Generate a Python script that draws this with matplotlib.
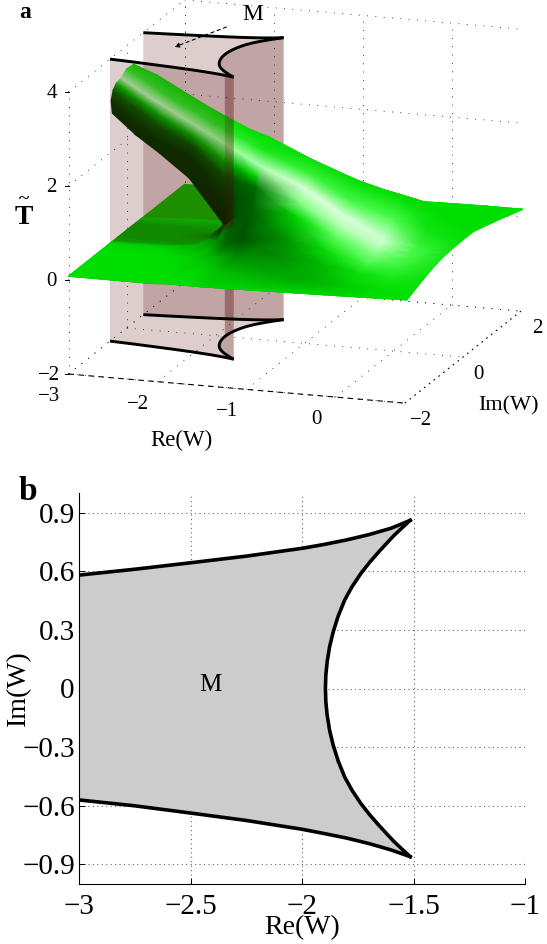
import numpy as np
import matplotlib
matplotlib.use("Agg")
import matplotlib.pyplot as plt
from matplotlib.colors import LinearSegmentedColormap
from matplotlib.patches import Polygon, Rectangle

plt.rcParams['font.family'] = ['Liberation Serif', 'DejaVu Sans']
W, H = 547, 944

# boundary of the region M
re_top = [-3.0, -2.75, -2.5, -2.25, -2.0, -1.9, -1.8, -1.7, -1.6, -1.515]
im_top = [0.58, 0.61, 0.643, 0.677, 0.717, 0.737, 0.76, 0.787, 0.82, 0.86]
re_bot = [-3.0, -2.75, -2.5, -2.25, -2.0, -1.9, -1.8, -1.7, -1.6, -1.515]
im_bot = [-0.57, -0.60, -0.637, -0.675, -0.72, -0.742, -0.765, -0.793, -0.826, -0.86]
re_arc = [-1.515, -1.553, -1.590, -1.655, -1.697, -1.735, -1.776, -1.808, -1.838, -1.860, -1.876, -1.887, -1.893, -1.895,
          -1.893, -1.887, -1.876, -1.860, -1.838, -1.808, -1.776, -1.735, -1.697, -1.655, -1.590, -1.553, -1.515]
im_arc = [0.86, 0.82, 0.78, 0.70, 0.645, 0.59, 0.52, 0.454, 0.37, 0.29, 0.215, 0.138, 0.07, 0.0,
          -0.07, -0.138, -0.215, -0.29, -0.37, -0.454, -0.52, -0.59, -0.645, -0.70, -0.78, -0.82, -0.86]
# height where the surface meets the front wall, along re_bot
cut_t = [.13, .15, .18, .22, .30, .39, .48, .61, .75, .85]

# surface height and shading, panel a
# columns lean with the highlight on the right hand rows
sheet_re = [-3, -2.4, -2.05, -1.9, -1.7, -1.5, -1, -0.5, 0, 0.4, 0.8]
im_base = [-2, -1.4, -0.9, -0.6, -0.3, -0.15, 0, 0.15, 0.3, 0.7, 1.2, 2]
sheet_im = [
    im_base, im_base, im_base, im_base, im_base, im_base, im_base,
    [-2, -1.55, -1.05, -.75, -.47, -.32, -.17, .05, .3, .7, 1.2, 2],
    [-2, -1.70, -1.23, -.93, -.63, -.48, -.33, -.05, .3, .7, 1.2, 2],
    [-2, -1.75, -1.35, -1.05, -.75, -.60, -.45, -.10, .3, .7, 1.2, 2],
    [-2, -1.75, -1.35, -1.05, -.75, -.60, -.45, -.10, .3, .7, 1.2, 2],
]
sheet_t = [
    [.08, .08, .08, .08, .08, .08, .08, .08, .08, .08, .08, .08],
    [.08, .08, .08, .08, .08, .08, .08, .08, .08, .08, .08, .08],
    [.08, .08, .08, .08, .08, .10, .13, .10, .08, .08, .08, .08],
    [.10, .10, .10, .12, .18, .28, .37, .28, .20, .12, .10, .10],
    [.10, .12, .15, .25, .70, 1.10, 1.92, 2.12, 2.28, 1.60, .30, .10],
    [.10, .13, .20, .42, .95, 1.32, 1.70, 1.95, 2.16, 1.60, .40, .10],
    [.12, .16, .30, .50, .85, 1.05, 1.30, 1.55, 1.75, 1.35, .45, .12],
    [.14, .17, .30, .42, .58, .72, .88, 1.08, 1.40, 1.10, .50, .14],
    [.16, .20, .27, .32, .42, .47, .55, .82, 1.13, .90, .50, .16],
    [.18, .22, .28, .35, .42, .47, .50, .68, .85, .70, .45, .17],
    [.20, .27, .38, .45, .50, .51, .52, .53, .53, .45, .35, .17],
]
sheet_shade = [
    [.60, .60, .60, .58, .48, .48, .48, .48, .48, .60, .60, .60],
    [.60, .60, .60, .58, .48, .48, .48, .48, .48, .60, .60, .60],
    [.60, .60, .58, .52, .48, .46, .40, .46, .48, .55, .60, .60],
    [.60, .58, .55, .52, .40, .15, .05, .20, .30, .50, .60, .60],
    [.60, .58, .50, .32, .24, .24, .90, .68, .60, .60, .60, .60],
    [.58, .52, .40, .24, .28, .34, .92, .66, .60, .60, .60, .60],
    [.58, .48, .40, .42, .58, .85, .98, .72, .62, .60, .60, .60],
    [.58, .48, .50, .62, .80, .92, .98, .76, .60, .60, .60, .60],
    [.58, .55, .62, .76, .88, .94, .96, .78, .60, .60, .60, .60],
    [.60, .60, .66, .72, .76, .76, .74, .64, .60, .60, .60, .60],
    [.60, .62, .64, .65, .65, .65, .64, .61, .60, .60, .60, .60],
]

# the folded upper sheet, one row per Re, lower edge to crest
tube_re = [-3, -2.75, -2.5, -2.2, -1.9, -1.7, -1.5]
tube_im = [
    [-.49, -.53, -.46, -.35, -.18, .00, .25],
    [-.45, -.50, -.43, -.32, -.20, .02, .28],
    [-.40, -.45, -.38, -.30, -.20, .00, .30],
    [-.30, -.30, -.27, -.22, -.15, .05, .30],
    [.00, -.02, -.03, -.04, -.05, .10, .30],
    [-.15, -.10, -.07, -.05, -.02, .15, .30],
    [-.30, -.22, -.15, -.08, .00, .15, .30],
]
tube_t = [
    [2.81, 3.10, 3.29, 3.38, 3.41, 3.51, 3.49],
    [2.37, 2.68, 2.93, 3.05, 3.14, 3.24, 3.29],
    [2.00, 2.30, 2.55, 2.72, 2.88, 2.97, 3.02],
    [1.47, 1.96, 2.18, 2.36, 2.54, 2.65, 2.72],
    [.37, 1.02, 1.45, 1.80, 2.15, 2.32, 2.45],
    [.70, 1.10, 1.35, 1.62, 1.92, 2.12, 2.28],
    [.95, 1.15, 1.32, 1.50, 1.70, 1.95, 2.16],
]
tube_shade = [
    [.10, .15, .32, .55, .93, .70, .62],
    [.10, .13, .30, .52, .93, .70, .62],
    [.10, .12, .28, .50, .93, .70, .62],
    [.10, .12, .25, .50, .92, .70, .62],
    [.05, .12, .25, .50, .90, .68, .60],
    [.24, .25, .28, .50, .90, .68, .60],
    [.28, .30, .34, .60, .92, .66, .60],
]

re_ticks_a = [-3, -2, -1, 0]
re_labels_a = ['\u22123', '\u22122', '\u22121', '0']
im_ticks_a = [-2, 0, 2]
im_labels_a = ['\u22122', '0', '2']
t_ticks_a = [-2, 0, 2, 4]
t_labels_a = ['\u22122', '0', '2', '4']

re_ticks_b = [-3, -2.5, -2, -1.5, -1]
re_labels_b = ['\u22123', '\u22122.5', '\u22122', '\u22121.5', '\u22121']
im_ticks_b = [-0.9, -0.6, -0.3, 0, 0.3, 0.6, 0.9]
im_labels_b = ['\u22120.9', '\u22120.6', '\u22120.3', '0', '0.3', '0.6', '0.9']

fig = plt.figure(figsize=(W / 100, H / 100), dpi=100)

# panel a: Matlab style orthographic view, done as an affine map onto pixels
ax1 = fig.add_axes([0, 0, 1, 1])
ax1.set_xlim(0, W)
ax1.set_ylim(H, 0)
ax1.axis('off')


def project(re, im, t):
    re, im, t = np.asarray(re, float), np.asarray(im, float), np.asarray(t, float)
    x = 68.5 + 89 * (re + 3) + 29 * (im + 2)
    y = 374 + 7.7 * (re + 3) - 23 * (im + 2) - 47 * (t + 2)
    return x, y


RE_MIN, RE_MAX, IM_MIN, IM_MAX, T_MIN, T_MAX = -3, 0.78, -2, 2, -2, 4
dot = dict(color='k', lw=0.6, ls=(0, (1, 9)), zorder=1)


def line3(re, im, t, **kw):
    ax1.plot(*project(re, im, t), **kw)


# grid on the floor and the two back walls
for r in re_ticks_a:
    line3([r, r], [IM_MIN, IM_MAX], [T_MIN, T_MIN], **dot)
    line3([r, r], [IM_MAX, IM_MAX], [T_MIN, T_MAX], **dot)
for i in im_ticks_a:
    line3([RE_MIN, RE_MAX], [i, i], [T_MIN, T_MIN], **dot)
    line3([RE_MIN, RE_MIN], [i, i], [T_MIN, T_MAX], **dot)
for t in t_ticks_a:
    line3([RE_MIN, RE_MIN], [IM_MIN, IM_MAX], [t, t], **dot)
    line3([RE_MIN, RE_MAX], [IM_MAX, IM_MAX], [t, t], **dot)
dash = dict(color='k', lw=0.8, ls=(0, (5, 4)), zorder=1)
line3([RE_MIN, RE_MAX], [IM_MIN, IM_MIN], [T_MIN, T_MIN], **dash)
line3([RE_MAX, RE_MAX], [IM_MIN, IM_MAX], [T_MIN, T_MIN], **dict(dash, ls=(0, (1.5, 4))))

# green surface colours
greens = LinearSegmentedColormap.from_list('greens', [
    (0.0, (0, 0.10, 0)),
    (0.3, (0, 0.38, 0)),
    (0.6, (0, 0.87, 0)),
    (0.8, (0.35, 1, 0.35)),
    (1.0, (0.92, 1, 0.92)),
])
sheet_t = np.array(sheet_t)
sheet_shade = np.array(sheet_shade)
sheet_rows = np.repeat(sheet_re, 12).reshape(11, 12)
sx, sy = project(sheet_rows, np.array(sheet_im), sheet_t)
tube_rows = np.repeat(tube_re, 7).reshape(7, 7)
tx, ty = project(tube_rows, np.array(tube_im), np.array(tube_t))


def sheet(z, clip=None):
    # far strips first, so the ridge hides what lies behind it
    m = ax1.pcolormesh(sx.T[::-1], sy.T[::-1], sheet_shade.T[::-1], cmap=greens, vmin=0, vmax=1,
                       shading='gouraud', zorder=z)
    if clip is not None:
        patch = Polygon(clip, closed=True, transform=ax1.transData, fc='none', ec='none')
        ax1.add_patch(patch)
        m.set_clip_path(patch)
    return m


def tube(z):
    return ax1.pcolormesh(tx, ty, np.array(tube_shade), cmap=greens, vmin=0, vmax=1,
                          shading='gouraud', zorder=z)


def wall(re, im, z):
    x0, y0 = project(re, im, np.full(len(re), T_MIN))
    x1, y1 = project(re, im, np.full(len(re), T_MAX))
    pts = np.r_[np.c_[x1, y1], np.c_[x0, y0][::-1]]
    ax1.add_patch(Polygon(pts, closed=True, fc=(85 / 255, 5 / 255, 5 / 255),
                          ec='none', alpha=0.2, zorder=z))


mid = len(re_arc) // 2
sheet(2)
wall(re_top, im_top, 3)
wall(re_arc[:mid + 1], im_arc[:mid + 1], 3)

# the sheet comes back in front of the back wall below its cut line
ux, uy = project(re_top, im_top, np.full(len(re_top), 0.08))
clip_u = np.r_[np.c_[ux[:5], uy[:5]], [[ux[4], 0], [W, 0], [W, H], [0, H], [0, uy[0]]]]
sheet(4, clip_u)

tube(5)

wall(re_arc[mid:], im_arc[mid:], 6)
wall(re_bot, im_bot, 6)

# and in front of the front wall
lx, ly = project(re_bot, im_bot, cut_t)
clip_l = np.r_[np.c_[lx, ly], [[lx[-1], 0], [W, 0], [W, H], [0, H], [0, ly[0]]]]
sheet(7, clip_l)

# right of the front wall the ridge is not veiled
ridge = tube(7.5)
right = Rectangle((lx[-1], 0), W, H, transform=ax1.transData, fc='none', ec='none')
ax1.add_patch(right)
ridge.set_clip_path(right)

for t in (T_MIN, T_MAX):
    for re, im in ((re_top, im_top), (re_bot, im_bot), (re_arc, im_arc)):
        line3(re, im, np.full(len(re), t), color='k', lw=2.1, zorder=8,
              solid_capstyle='butt')

# ticks and labels of panel a
for t, lab in zip(t_ticks_a, t_labels_a):
    x, y = project(RE_MIN, IM_MIN, t)
    ax1.plot([x - 4, x], [y, y], color='k', lw=0.7, zorder=9)
    ax1.text(x - (19 if t == -2 else 17), y + 1, lab, fontsize=15, ha='center', va='center')
for r, lab in zip(re_ticks_a, re_labels_a):
    x, y = project(r, IM_MIN, T_MIN)
    ax1.text(x - 19, y + 22.5, lab, fontsize=15, ha='center', va='center')
for i, lab in zip(im_ticks_a, im_labels_a):
    x, y = project(RE_MAX, i, T_MIN)
    ax1.text(x + 16, y + 17, lab, fontsize=15, ha='center', va='center')
ax1.text(181, 440, 'Re(W)', fontsize=16.5, ha='center', va='center')
ax1.text(508, 406, 'Im(W)', fontsize=16, ha='center', va='center')
ax1.text(24, 218, 'T', fontsize=20, fontweight='bold', ha='center', va='center')
ax1.text(24, 200, '~', fontsize=14, fontweight='bold', ha='center', va='center')
ax1.text(25, 12, 'a', fontsize=17, fontweight='bold', ha='center', va='center')
ax1.text(253, 15, 'M', fontsize=17, ha='center', va='center')
ax1.annotate('', xy=(172, 48), xytext=(229, 26), zorder=9,
             arrowprops=dict(arrowstyle='-|>', lw=0.8, ls=(0, (3, 3)), color='k', mutation_scale=7))

# panel b: plain 2D axes
ax2 = fig.add_axes([79 / W, 1 - 884 / H, (525 - 79) / W, (884 - 493) / H])
ax2.patch.set_alpha(0)
ax2.set_xlim(-3, -1)
ax2.set_ylim(-1, 1)
ax2.grid(True, color='#666666', lw=0.8, ls=(0, (1, 3)))
ax2.set_axisbelow(True)
poly_re = re_top + re_arc[1:-1] + re_bot[::-1]
poly_im = im_top + im_arc[1:-1] + im_bot[::-1]
ax2.fill(poly_re, poly_im, color='#cccccc', lw=0, zorder=2)
ax2.plot(re_top, im_top, color='k', lw=2.6, zorder=3)
ax2.plot(re_bot, im_bot, color='k', lw=2.6, zorder=3)
ax2.plot(re_arc, im_arc, color='k', lw=2.6, zorder=3)
ax2.set_xticks(re_ticks_b, re_labels_b)
ax2.set_yticks(im_ticks_b, im_labels_b)
ax2.tick_params(labelsize=21, length=4, width=0.7, direction='in')
ax2.tick_params(axis='x', pad=7)
ax2.tick_params(axis='y', pad=3)
for side in ('top', 'right'):
    ax2.spines[side].set_visible(False)
for side in ('left', 'bottom'):
    ax2.spines[side].set_linewidth(0.8)
ax2.text(-2.41, 0.02, 'M', fontsize=18, ha='center', va='center', zorder=4)
ax2.set_xlabel('Re(W)', fontsize=20, labelpad=-3)
ax2.set_ylabel('Im(W)', fontsize=20)
ax2.yaxis.set_label_coords(-48 / 446, 0.5)
fig.text(28 / W, 1 - 491 / H, 'b', fontsize=24, fontweight='bold', ha='center', va='center')

fig.savefig('out.png', dpi=100)
